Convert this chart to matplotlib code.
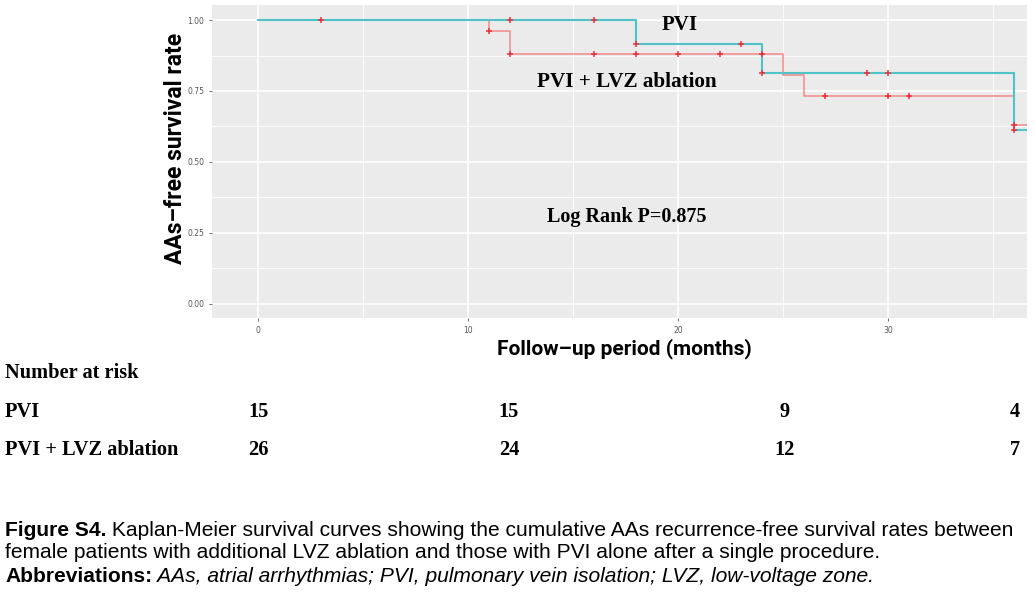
import numpy as np
import matplotlib
matplotlib.use("Agg")
import matplotlib.pyplot as plt
from matplotlib.ticker import MultipleLocator

# ---------------- data ----------------
pvi_times = [0, 18, 24, 36, 36.6]
pvi_surv = [1.0, 0.917, 0.815, 0.611, 0.611]
pvi_censor = [3, 12, 16, 18, 23, 24, 29, 30, 36]

lvz_times = [0, 11, 12, 25, 26, 36, 36.6]
lvz_surv = [1.0, 0.962, 0.881, 0.808, 0.734, 0.629, 0.629]
lvz_censor = [11, 12, 16, 18, 20, 22, 24, 27, 30, 31, 36]

x_ticks = [0, 10, 20, 30]
y_ticks = [0.00, 0.25, 0.50, 0.75, 1.00]

risk_groups = ["PVI", "PVI + LVZ ablation"]
risk_pvi = [15, 15, 9, 4]
risk_lvz = [26, 24, 12, 7]

caption_l1_bold = "Figure S4."
caption_l1 = " Kaplan-Meier survival curves showing the cumulative AAs recurrence-free survival rates between"
caption_l2 = "female patients with additional LVZ ablation and those with PVI alone after a single procedure."
caption_l3_bold = "Abbreviations:"
caption_l3 = " AAs, atrial arrhythmias; PVI, pulmonary vein isolation; LVZ, low-voltage zone."

# ---------------- layout ----------------
W, H = 1035, 598
fig = plt.figure(figsize=(W / 100, H / 100), dpi=100)
fig.patch.set_facecolor("white")

def fx(px):
    return px / W

def fy(py):
    return 1 - py / H

ax = fig.add_axes([fx(212), fy(318), fx(1027) - fx(212), fy(5) - fy(318)])
ax.set_facecolor("#EBEBEB")
ax.set_xlim(-2.19, 36.62)
ax.set_ylim(-0.05, 1.053)
ax.xaxis.set_major_locator(MultipleLocator(10))
ax.xaxis.set_minor_locator(MultipleLocator(5))
ax.yaxis.set_major_locator(MultipleLocator(0.25))
ax.yaxis.set_minor_locator(MultipleLocator(0.125))
ax.set_xticks(x_ticks)
ax.set_yticks(y_ticks)
ax.set_yticklabels([f"{v:.2f}" for v in y_ticks])
ax.grid(which="major", color="white", linewidth=1.2)
ax.grid(which="minor", color="white", linewidth=0.6)
ax.set_axisbelow(True)
for s in ax.spines.values():
    s.set_visible(False)
ax.tick_params(which="major", length=2.5, width=0.6, color="#555555",
               labelsize=5.5, labelcolor="#555555", pad=3)
ax.tick_params(which="minor", length=0)

def step_value(times, surv, t):
    i = np.searchsorted(times, t, side="right") - 1
    return surv[i]

# curves
ax.step(lvz_times, lvz_surv, where="post", color="#F28A8A", linewidth=1.1, zorder=3)
ax.step(pvi_times, pvi_surv, where="post", color="#4FC3C7", linewidth=1.5, zorder=4)

mark_color = "#E8303A"
ax.plot(lvz_censor, [step_value(lvz_times, lvz_surv, t) for t in lvz_censor],
        linestyle="none", marker="+", markersize=5, markeredgewidth=1.1,
        color=mark_color, zorder=5)
ax.plot(pvi_censor, [step_value(pvi_times, pvi_surv, t) for t in pvi_censor],
        linestyle="none", marker="+", markersize=5, markeredgewidth=1.1,
        color=mark_color, zorder=5)

serif = ["Liberation Serif", "DejaVu Serif"]
narrow = ["Roboto", "Liberation Sans", "DejaVu Sans"]

fig.text(fx(680), fy(25), "PVI", family=serif, weight="bold", fontsize=15,
         ha="center", va="center")
fig.text(fx(627), fy(82), "PVI + LVZ ablation", family=serif, weight="bold",
         fontsize=15.2, ha="center", va="center")
fig.text(fx(627), fy(217), "Log Rank P=0.875", family=serif, weight="bold",
         fontsize=14.5, ha="center", va="center")

# axis labels
fig.text(fx(175), fy(148), "AAs\u2013free survival rate", family=narrow, weight="bold",
         fontsize=16.5, rotation=90, ha="center", va="center")
fig.text(fx(624), fy(349), "Follow\u2013up period (months)", family=narrow, weight="bold",
         fontsize=15, ha="center", va="center")

# number at risk table
risk_cols_px = [258, 509, 785, 1015]
tfs = 14.7
fig.text(fx(5), fy(373), "Number at risk", family=serif, weight="bold",
         fontsize=tfs, ha="left", va="center")
for row_y, name, vals in [(412, risk_groups[0], risk_pvi), (450, risk_groups[1], risk_lvz)]:
    fig.text(fx(5), fy(row_y), name, family=serif, weight="bold", fontsize=tfs,
             ha="left", va="center")
    for cx, v in zip(risk_cols_px, vals):
        fig.text(fx(cx), fy(row_y), str(v), family=serif, weight="bold",
                 fontsize=tfs, ha="center", va="center")

# caption
sans = ["Liberation Sans", "DejaVu Sans"]
cap_fs = 15.1
t1 = fig.text(fx(5), fy(530), caption_l1_bold, family=sans, weight="bold",
              fontsize=cap_fs, ha="left", va="center")
fig.canvas.draw()
bb = t1.get_window_extent()
fig.text(bb.x1 / W, fy(530), caption_l1, family=sans, fontsize=cap_fs,
         ha="left", va="center")
fig.text(fx(5), fy(553), caption_l2, family=sans, fontsize=cap_fs,
         ha="left", va="center")
t3 = fig.text(fx(5), fy(576), caption_l3_bold, family=sans, weight="bold",
              fontsize=cap_fs, ha="left", va="center")
fig.canvas.draw()
bb3 = t3.get_window_extent()
fig.text(bb3.x1 / W, fy(576), caption_l3, family=sans, style="italic",
         fontsize=cap_fs, ha="left", va="center")

fig.savefig("out.png", dpi=100)
